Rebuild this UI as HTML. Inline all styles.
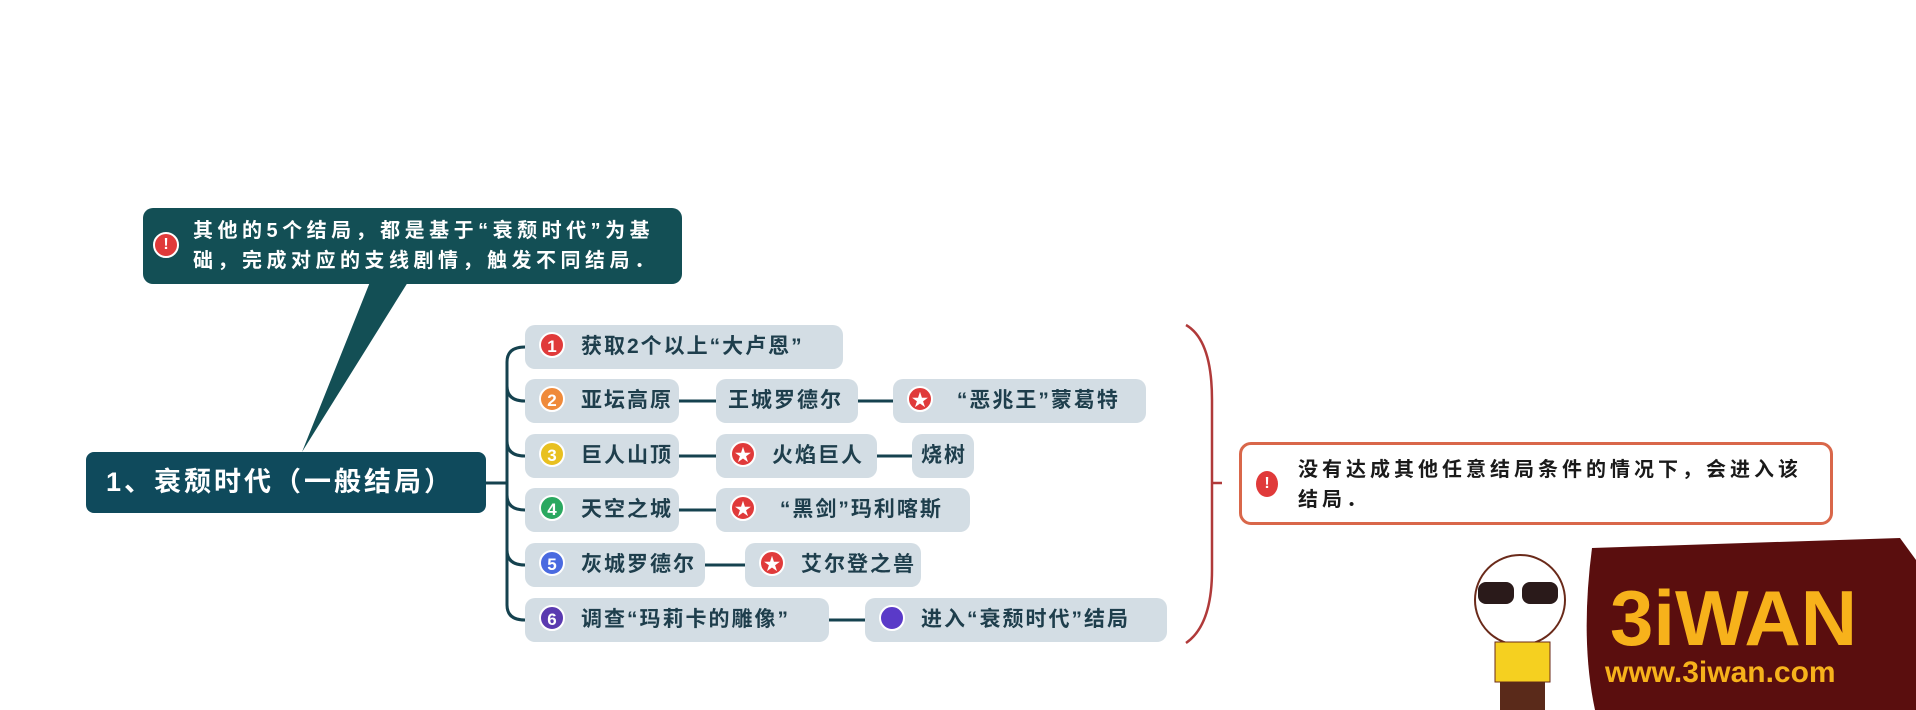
<!DOCTYPE html>
<html><head><meta charset="utf-8"><style>
body{margin:0;width:1916px;height:710px;background:#fff;position:relative;overflow:hidden;font-family:"Liberation Sans","Noto Sans CJK SC",sans-serif;}
.n{position:absolute;height:44px;background:#d3dde4;border-radius:10px;color:#1e3e4c;font-size:21px;font-weight:bold;line-height:44px;white-space:nowrap;box-sizing:border-box;padding-left:14px;letter-spacing:2px;}
.ic{display:inline-block;width:26px;height:26px;border-radius:50%;color:#fff;font-size:17px;line-height:26px;text-align:center;vertical-align:middle;margin-right:16px;position:relative;top:-2px;border:2px solid #fff;box-sizing:border-box;letter-spacing:0;}
.abs{position:absolute;}
</style></head><body>
<svg class="abs" style="left:0;top:0" width="1916" height="710">
<polygon points="370,282 408,282 302,452" fill="#134f55"/>
<g stroke="#15424f" stroke-width="3" fill="none">
<line x1="486" y1="483" x2="507" y2="483"/>
<path d="M525,347 Q507,347 507,362 L507,605 Q507,620 525,620"/>
<path d="M507,386 Q507,401 525,401"/>
<path d="M507,441 Q507,456 525,456"/>
<path d="M507,495 Q507,510 525,510"/>
<path d="M507,550 Q507,565 525,565"/>
<line x1="679" y1="401" x2="716" y2="401"/><line x1="858" y1="401" x2="893" y2="401"/>
<line x1="679" y1="456" x2="716" y2="456"/><line x1="877" y1="456" x2="912" y2="456"/>
<line x1="679" y1="510" x2="716" y2="510"/>
<line x1="705" y1="565" x2="745" y2="565"/>
<line x1="829" y1="620" x2="865" y2="620"/>
</g>
<path d="M1186,325 Q1212,340 1212,400 L1212,570 Q1212,625 1186,643" stroke="#b03a3a" stroke-width="2.5" fill="none"/>
<line x1="1212" y1="483" x2="1222" y2="483" stroke="#b03a3a" stroke-width="2.5"/>
<path d="M1592,548 L1900,538 L1916,560 L1916,710 L1595,710 Q1580,640 1592,548Z" fill="#5a0e0e"/>
<text x="1610" y="645" font-family="Liberation Sans" font-weight="bold" font-size="78" fill="#f7b21b">3iWAN</text>
<text x="1605" y="682" font-family="Liberation Sans" font-weight="bold" font-size="30" fill="#f7b21b">www.3iwan.com</text>
<circle cx="1520" cy="600" r="45" fill="#fff" stroke="#6a2a1a" stroke-width="2"/>
<rect x="1478" y="582" width="36" height="22" rx="8" fill="#2a1a1a"/><rect x="1522" y="582" width="36" height="22" rx="8" fill="#2a1a1a"/>
<rect x="1495" y="642" width="55" height="40" fill="#f5d020" stroke="#6a2a1a"/>
<rect x="1500" y="682" width="45" height="28" fill="#5a2a1a"/>
</svg>
<div class="abs" style="left:143px;top:208px;width:539px;height:76px;background:#134f55;border-radius:10px;color:#fff;font-size:20px;font-weight:bold;line-height:30px;box-sizing:border-box;padding:8px 0 0 50px;letter-spacing:4.5px;white-space:nowrap;">
<span class="abs" style="left:10px;top:24px;width:26px;height:26px;border-radius:50%;background:#e03a3a;border:2px solid #fff;box-sizing:border-box;text-align:center;line-height:22px;font-size:16px;letter-spacing:0;">!</span>其他的5个结局，都是基于“衰颓时代”为基<br>础，完成对应的支线剧情，触发不同结局．</div>
<div class="abs" style="left:86px;top:452px;width:400px;height:61px;background:#0f4a5c;border-radius:8px;color:#fff;font-size:27px;font-weight:bold;line-height:61px;padding-left:20px;box-sizing:border-box;letter-spacing:3px;white-space:nowrap;">1、衰颓时代（一般结局）</div>

<div class="n" style="left:525px;top:325px;width:318px"><span class="ic" style="background:#e03a3a">1</span>获取2个以上“大卢恩”</div>
<div class="n" style="left:525px;top:379px;width:154px"><span class="ic" style="background:#ef8a3a">2</span>亚坛高原</div>
<div class="n" style="left:716px;top:379px;width:142px;padding-left:12px">王城罗德尔</div>
<div class="n" style="left:893px;top:379px;width:253px"><span class="ic" style="background:#e03a3a">★</span> “恶兆王”蒙葛特</div>
<div class="n" style="left:525px;top:434px;width:154px"><span class="ic" style="background:#e8c020">3</span>巨人山顶</div>
<div class="n" style="left:716px;top:434px;width:161px"><span class="ic" style="background:#e03a3a">★</span>火焰巨人</div>
<div class="n" style="left:912px;top:434px;width:62px;padding-left:9px">烧树</div>
<div class="n" style="left:525px;top:488px;width:154px"><span class="ic" style="background:#2aa860">4</span>天空之城</div>
<div class="n" style="left:716px;top:488px;width:254px"><span class="ic" style="background:#e03a3a">★</span> “黑剑”玛利喀斯</div>
<div class="n" style="left:525px;top:543px;width:180px"><span class="ic" style="background:#4a6ae0">5</span>灰城罗德尔</div>
<div class="n" style="left:745px;top:543px;width:176px"><span class="ic" style="background:#e03a3a">★</span>艾尔登之兽</div>
<div class="n" style="left:525px;top:598px;width:304px"><span class="ic" style="background:#5a3ab0">6</span>调查“玛莉卡的雕像”</div>
<div class="n" style="left:865px;top:598px;width:302px"><span class="ic" style="background:#5a3ac8"></span>进入“衰颓时代”结局</div>

<div class="abs" style="left:1239px;top:442px;width:594px;height:83px;border:3px solid #d9674a;border-radius:12px;box-sizing:border-box;color:#1a1a1a;font-size:20px;font-weight:bold;line-height:30px;padding:10px 0 0 56px;letter-spacing:4px;white-space:nowrap;">
<span class="abs" style="left:14px;top:26px;width:22px;height:26px;border-radius:50%;background:#e03a3a;color:#fff;text-align:center;line-height:26px;font-size:16px;letter-spacing:0;">!</span>没有达成其他任意结局条件的情况下，会进入该<br>结局．</div>
</body></html>
